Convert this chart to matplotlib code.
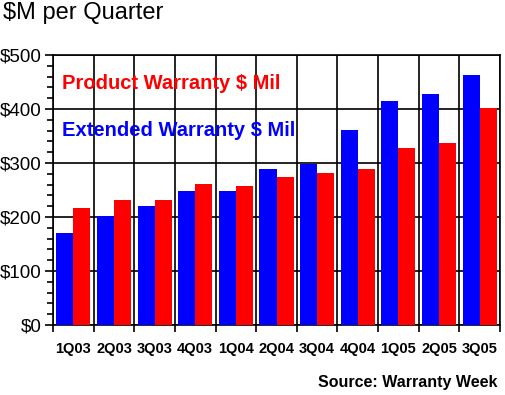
import numpy as np
import matplotlib
matplotlib.use("Agg")
import matplotlib.pyplot as plt
from matplotlib.ticker import MultipleLocator, FuncFormatter

quarters = ["1Q03", "2Q03", "3Q03", "4Q03", "1Q04", "2Q04",
            "3Q04", "4Q04", "1Q05", "2Q05", "3Q05"]
extended = [170, 202, 220, 248, 248, 289, 298, 361, 415, 428, 463]
product = [217, 231, 231, 261, 257, 274, 281, 289, 328, 337, 402]

plt.rcParams["font.family"] = ["Liberation Sans", "DejaVu Sans"]

fig = plt.figure(figsize=(5.05, 3.95), dpi=100)
ax = fig.add_axes([53 / 505, 70 / 395, 447 / 505, 270 / 395])

x = np.arange(len(quarters))
w = 0.42
ax.bar(x - w / 2, extended, width=w, color="#0000ff", zorder=3)
ax.bar(x + w / 2, product, width=w, color="#ff0000", zorder=3)

ax.set_xlim(-0.5, len(quarters) - 0.5)
ax.set_ylim(0, 500)

# y axis: dollar ticks, minor ticks every 20
ax.yaxis.set_major_locator(MultipleLocator(100))
ax.yaxis.set_minor_locator(MultipleLocator(20))
ax.yaxis.set_major_formatter(FuncFormatter(lambda v, p: f"${v:.0f}"))
ax.grid(axis="y", which="major", color="black", linewidth=1.2, zorder=1)

# x axis: separators between quarters
ax.set_xticks(np.arange(len(quarters) + 1) - 0.5)
ax.set_xticklabels([])
ax.set_xticks(x, minor=True)
ax.set_xticklabels(quarters, minor=True, fontsize=10.5, fontweight="bold")
ax.tick_params(axis="x", which="minor", length=0, pad=12)
ax.tick_params(axis="x", which="major", length=5, width=1.2)
ax.grid(axis="x", which="major", color="black", linewidth=1.2, zorder=1)

ax.tick_params(axis="y", which="major", length=6, width=1.2, pad=2,
               labelsize=13.5)
ax.tick_params(axis="y", which="minor", length=4, width=1.2)

for s in ax.spines.values():
    s.set_linewidth(1.2)

ax.text(0.02, 0.896, "Product Warranty $ Mil", transform=ax.transAxes,
        color="#ff0000", fontsize=14.5, fontweight="bold", va="center",
        zorder=4)
ax.text(0.02, 0.722, "Extended Warranty $ Mil", transform=ax.transAxes,
        color="#0000ff", fontsize=14.5, fontweight="bold", va="center",
        zorder=4)

fig.text(3 / 505, 1 - 13 / 395, "$M per Quarter", fontsize=17, va="center")
fig.text(498 / 505, 1 - 383 / 395, "Source: Warranty Week", fontsize=11.5,
         fontweight="bold", ha="right", va="center")

fig.savefig("out.png", dpi=100)
